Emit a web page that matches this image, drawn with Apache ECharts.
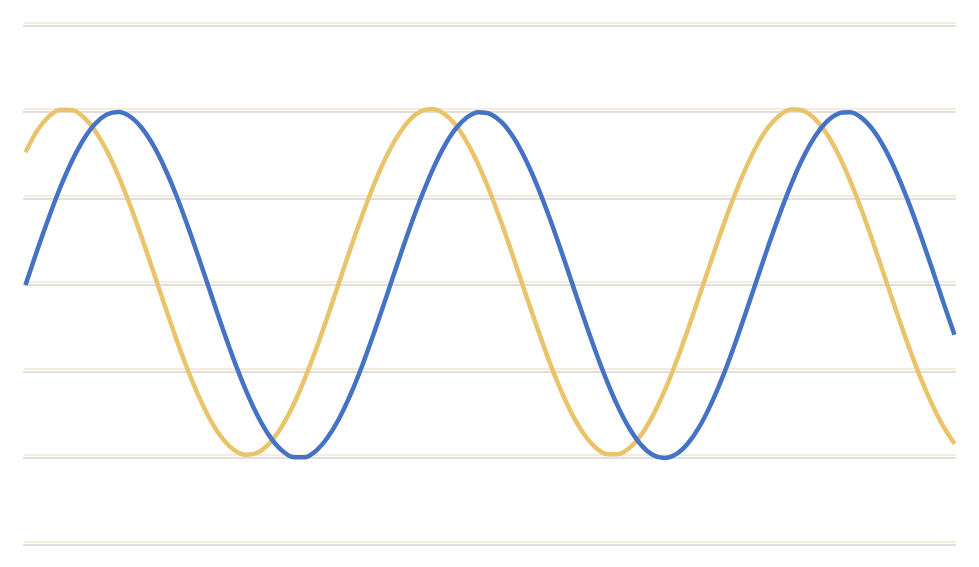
<!DOCTYPE html>
<html>
<head>
<meta charset="utf-8">
<script src="https://cdn.jsdelivr.net/npm/echarts@6/dist/echarts.min.js"></script>
<style>
html,body{margin:0;padding:0;background:#fff;}
#chart{width:979px;height:567px;}
</style>
</head>
<body>
<div id="chart"></div>
<script>
const xValues = [0,0.2,0.4,0.6,0.8,1,1.2,1.4,1.6,1.8,2,2.2,2.4,2.6,2.8,3,3.2,3.4,3.6,3.8,4,4.2,4.4,4.6,4.8,5,5.2,5.4,5.6,5.8,6,6.2,6.4,6.6,6.8,7,7.2,7.4,7.6,7.8,8,8.2,8.4,8.6,8.8,9,9.2,9.4,9.6,9.8,10,10.2,10.4,10.6,10.8,11,11.2,11.4,11.6,11.8,12,12.2,12.4,12.6,12.8,13,13.2,13.4,13.6,13.8,14,14.2,14.4,14.6,14.8,15,15.2,15.4,15.6,15.8,16];
const blueValues = [0,0.199,0.389,0.565,0.717,0.841,0.932,0.985,1.000,0.974,0.909,0.808,0.675,0.516,0.335,0.141,-0.058,-0.256,-0.443,-0.612,-0.757,-0.872,-0.952,-0.994,-0.996,-0.959,-0.883,-0.773,-0.631,-0.465,-0.279,-0.083,0.117,0.312,0.494,0.657,0.794,0.899,0.968,0.999,0.989,0.941,0.855,0.734,0.585,0.412,0.223,0.025,-0.175,-0.367,-0.544,-0.700,-0.828,-0.923,-0.981,-1.000,-0.979,-0.919,-0.823,-0.693,-0.537,-0.358,-0.165,0.034,0.232,0.420,0.592,0.741,0.860,0.944,0.991,0.998,0.966,0.895,0.788,0.650,0.486,0.303,0.108,-0.092,-0.288];
const yellowValues = [0.750,0.875,0.956,0.996,0.994,0.953,0.873,0.759,0.614,0.445,0.259,0.062,-0.138,-0.332,-0.513,-0.673,-0.807,-0.908,-0.973,-0.999,-0.986,-0.933,-0.843,-0.720,-0.567,-0.392,-0.202,-0.003,0.196,0.386,0.562,0.715,0.839,0.931,0.985,1.000,0.975,0.911,0.810,0.678,0.519,0.339,0.145,-0.055,-0.252,-0.440,-0.609,-0.755,-0.870,-0.951,-0.994,-0.996,-0.960,-0.885,-0.775,-0.634,-0.468,-0.283,-0.086,0.113,0.309,0.491,0.654,0.792,0.898,0.967,0.999,0.990,0.942,0.857,0.737,0.588,0.416,0.227,0.028,-0.171,-0.363,-0.541,-0.697,-0.830,-0.935];

const bluePairs = xValues.map((x, i) => [x, blueValues[i]]);
const yellowPairs = xValues.map((x, i) => [x, yellowValues[i]]);

const chart = echarts.init(document.getElementById('chart'), null, {renderer: 'canvas'});
const hiddenX = (idx, min, max) => ({
  type: 'value', gridIndex: idx, min: min, max: max,
  show: false, splitLine: {show: false}
});
const yAx = (idx, color) => ({
  type: 'value', gridIndex: idx, min: -1.5, max: 1.5, interval: 0.5,
  axisLabel: {show: false}, axisTick: {show: false}, axisLine: {show: false},
  splitLine: {show: true, lineStyle: {color: color, width: 1.5}}
});
chart.setOption({
  animation: false,
  backgroundColor: '#ffffff',
  grid: [
    {left: 24, right: 23, top: 22.5, bottom: 25.5},
    {left: 23, right: 23, top: 25.5, bottom: 22.5}
  ],
  xAxis: [hiddenX(0, -0.026, 16.026), hiddenX(1, -0.043, 16.026)],
  yAxis: [yAx(0, '#F3E6CC'), yAx(1, '#D4D4D4')],
  series: [
    {
      type: 'line', xAxisIndex: 0, yAxisIndex: 0, data: yellowPairs,
      showSymbol: false, smooth: 0.3,
      lineStyle: {color: '#E9C46B', width: 4.5}, z: 2
    },
    {
      type: 'line', xAxisIndex: 1, yAxisIndex: 1, data: bluePairs,
      showSymbol: false, smooth: 0.3,
      lineStyle: {color: '#4472C4', width: 4.5}, z: 3
    }
  ]
});
</script>
</body>
</html>
